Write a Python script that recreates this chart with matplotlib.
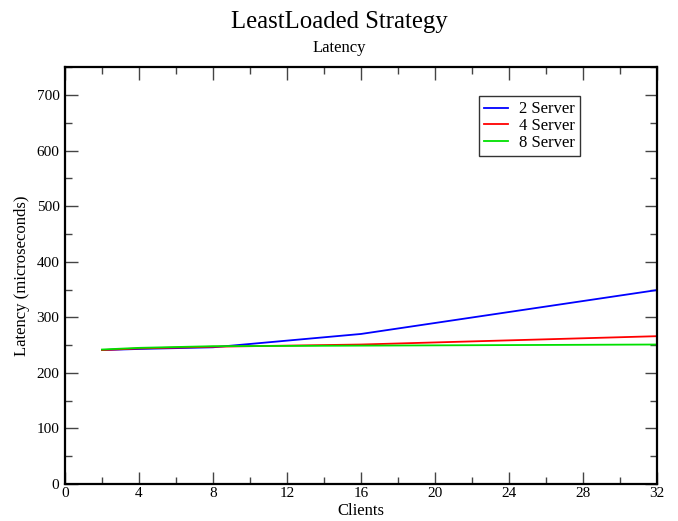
import matplotlib
matplotlib.use("Agg")
import matplotlib.pyplot as plt
from matplotlib.ticker import MultipleLocator

plt.rcParams['font.family'] = ['Liberation Serif', 'DejaVu Serif']

clients = [2, 4, 8, 16, 32]
lat_2srv = [241, 243, 246, 270, 349]
lat_4srv = [241, 244, 247, 251, 266]
lat_8srv = [242, 245, 248, 249, 251]

series = [
    ("2 Server", lat_2srv, "#0000ff"),
    ("4 Server", lat_4srv, "#ff0000"),
    ("8 Server", lat_8srv, "#00e000"),
]

fig = plt.figure(figsize=(6.78, 5.21), dpi=100)
ax = fig.add_axes([0.0959, 0.071, 0.8731, 0.800])

for name, vals, col in series:
    ax.plot(clients, vals, color=col, lw=1.3, label=name)

ax.set_xlim(0, 32)
ax.set_ylim(0, 750)
ax.xaxis.set_major_locator(MultipleLocator(4))
ax.xaxis.set_minor_locator(MultipleLocator(2))
ax.yaxis.set_major_locator(MultipleLocator(100))
ax.yaxis.set_minor_locator(MultipleLocator(50))
ax.tick_params(which='both', direction='in', top=True, right=True,
               color='#444444', labelsize=11, width=1.0)
ax.tick_params(which='major', length=9)
ax.tick_params(which='minor', length=5)
ax.tick_params(axis='x', which='major', pad=2)
ax.tick_params(axis='y', which='major', pad=4)
for s in ax.spines.values():
    s.set_linewidth(1.6)
    s.set_color('black')

ax.set_xlabel("Clients", fontsize=12, labelpad=2)
ax.set_ylabel("Latency (microseconds)", fontsize=12, labelpad=5)

fig.text(0.5, 0.947, "LeastLoaded Strategy", ha='center', va='baseline', fontsize=17.8)
fig.text(0.5, 0.900, "Latency", ha='center', va='baseline', fontsize=12)

leg = ax.legend(loc='upper left', bbox_to_anchor=(0.699, 0.930), borderaxespad=0,
                fontsize=12, frameon=True, fancybox=False, handlelength=1.45,
                handletextpad=0.66, labelspacing=0.05, borderpad=0.3)
leg.get_frame().set_edgecolor('black')
leg.get_frame().set_linewidth(1.0)

fig.savefig("out.png", dpi=100)
